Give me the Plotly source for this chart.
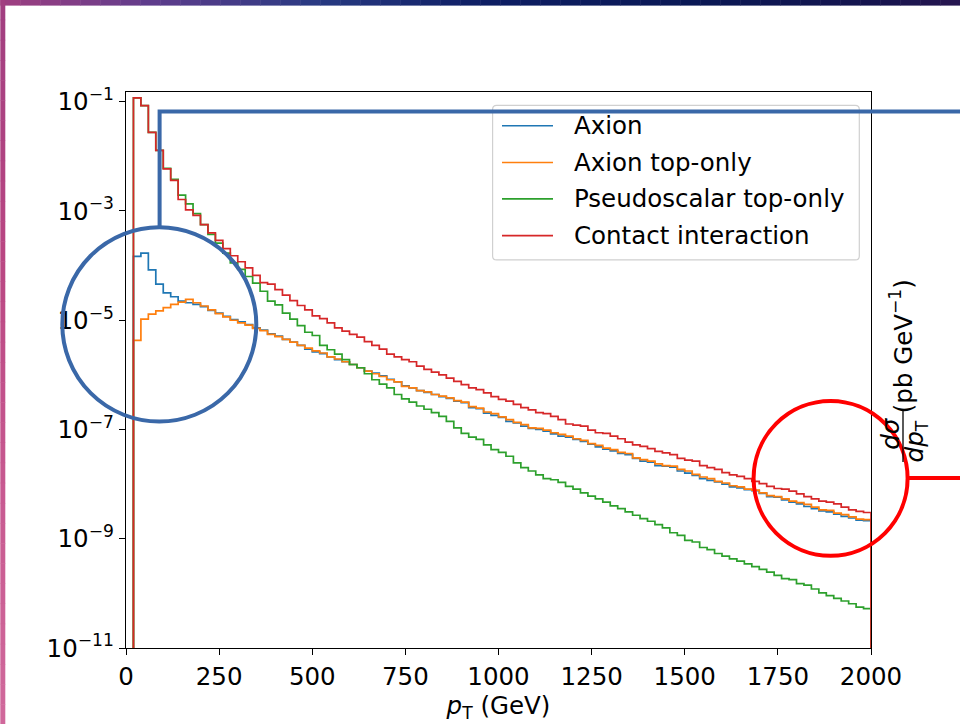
import numpy as np
import plotly.graph_objects as go

# ---------------- data (log10 of dσ/dpT in pb/GeV, one value per 20 GeV bin, 20–2000 GeV) -------------
bin_edges = list(range(20, 2001, 20))  # 100 edges -> 99 bins

axion_log10 = [
    -3.83, -3.77, -4.08, -4.34, -4.50, -4.57, -4.65, -4.68, -4.71, -4.75,
    -4.82, -4.87, -4.93, -4.99, -5.03, -5.08, -5.14, -5.18, -5.25, -5.29,
    -5.35, -5.40, -5.46, -5.53, -5.58, -5.61, -5.67, -5.72, -5.76, -5.81,
    -5.87, -5.93, -5.97, -6.02, -6.08, -6.13, -6.20, -6.24, -6.29, -6.32,
    -6.36, -6.40, -6.43, -6.48, -6.51, -6.60, -6.62, -6.70, -6.74, -6.78,
    -6.85, -6.88, -6.94, -6.98, -7.00, -7.03, -7.08, -7.12, -7.14, -7.18,
    -7.22, -7.27, -7.32, -7.36, -7.39, -7.44, -7.46, -7.53, -7.58, -7.60,
    -7.66, -7.67, -7.69, -7.76, -7.80, -7.84, -7.90, -7.93, -7.96, -8.00,
    -8.05, -8.07, -8.10, -8.12, -8.17, -8.23, -8.24, -8.29, -8.33, -8.36,
    -8.41, -8.45, -8.49, -8.51, -8.55, -8.59, -8.62, -8.66, -8.67,
]

axion_top_only_log10 = [
    -5.37, -4.98, -4.89, -4.83, -4.77, -4.71, -4.67, -4.62, -4.68, -4.74,
    -4.81, -4.88, -4.94, -5.00, -5.05, -5.09, -5.15, -5.19, -5.26, -5.30,
    -5.35, -5.40, -5.46, -5.51, -5.56, -5.60, -5.67, -5.71, -5.76, -5.81,
    -5.87, -5.93, -5.98, -6.03, -6.09, -6.13, -6.21, -6.24, -6.29, -6.31,
    -6.36, -6.39, -6.42, -6.47, -6.50, -6.58, -6.61, -6.68, -6.71, -6.77,
    -6.82, -6.87, -6.91, -6.97, -6.98, -7.01, -7.06, -7.09, -7.12, -7.17,
    -7.20, -7.26, -7.29, -7.34, -7.37, -7.42, -7.44, -7.52, -7.55, -7.58,
    -7.63, -7.66, -7.67, -7.73, -7.76, -7.82, -7.87, -7.90, -7.95, -7.98,
    -8.03, -8.05, -8.09, -8.11, -8.16, -8.21, -8.23, -8.27, -8.31, -8.34,
    -8.37, -8.42, -8.47, -8.48, -8.53, -8.56, -8.60, -8.64, -8.65,
]

pseudoscalar_top_only_log10 = [
    -0.93, -1.07, -1.56, -1.89, -2.22, -2.42, -2.71, -2.87, -3.05, -3.25,
    -3.43, -3.59, -3.77, -3.95, -4.07, -4.20, -4.32, -4.47, -4.65, -4.72,
    -4.87, -4.98, -5.10, -5.22, -5.28, -5.46, -5.54, -5.62, -5.72, -5.81,
    -5.87, -5.98, -6.09, -6.17, -6.24, -6.36, -6.44, -6.50, -6.57, -6.63,
    -6.69, -6.76, -6.85, -6.97, -7.07, -7.14, -7.18, -7.28, -7.37, -7.42,
    -7.49, -7.61, -7.70, -7.76, -7.83, -7.90, -7.92, -7.97, -8.04, -8.09,
    -8.16, -8.22, -8.27, -8.33, -8.40, -8.45, -8.51, -8.57, -8.63, -8.68,
    -8.74, -8.80, -8.89, -8.94, -9.03, -9.06, -9.16, -9.20, -9.27, -9.32,
    -9.37, -9.41, -9.46, -9.51, -9.56, -9.61, -9.67, -9.73, -9.75, -9.82,
    -9.85, -9.92, -9.99, -10.04, -10.09, -10.14, -10.19, -10.25, -10.28,
]

contact_log10 = [
    -0.93, -1.07, -1.56, -1.89, -2.23, -2.44, -2.79, -2.98, -3.08, -3.25,
    -3.40, -3.54, -3.69, -3.82, -3.93, -4.04, -4.18, -4.31, -4.34, -4.44,
    -4.54, -4.64, -4.73, -4.81, -4.92, -4.97, -5.05, -5.14, -5.20, -5.26,
    -5.31, -5.39, -5.46, -5.53, -5.62, -5.67, -5.72, -5.76, -5.84, -5.90,
    -5.95, -6.00, -6.06, -6.12, -6.18, -6.24, -6.27, -6.33, -6.40, -6.45,
    -6.48, -6.54, -6.60, -6.64, -6.69, -6.71, -6.76, -6.82, -6.90, -6.92,
    -6.94, -7.01, -7.06, -7.07, -7.12, -7.17, -7.23, -7.28, -7.31, -7.35,
    -7.40, -7.43, -7.46, -7.53, -7.56, -7.58, -7.66, -7.70, -7.73, -7.79,
    -7.83, -7.86, -7.90, -7.95, -7.99, -8.04, -8.08, -8.09, -8.13, -8.18,
    -8.23, -8.27, -8.31, -8.33, -8.36, -8.42, -8.47, -8.50, -8.52,
]

series_names = ["Axion", "Axion top-only", "Pseudoscalar top-only", "Contact interaction"]
series_data = [axion_log10, axion_top_only_log10, pseudoscalar_top_only_log10, contact_log10]
series_colors = ["#1f77b4", "#ff7f0e", "#2ca02c", "#d62728"]

x_ticks = [0, 250, 500, 750, 1000, 1250, 1500, 1750, 2000]
y_tick_exps = [-11, -9, -7, -5, -3, -1]

# ---------------- geometry (pixels) ----------------
W_FIG, H_FIG = 960, 724
L, R, T, B = 125.7, 870.7, 92.3, 647.7
PW, PH = R - L, B - T
DEC = (B - 102.0) / 10.0
Y_TOP = -11 + PH / DEC
FLOOR = 1e-14


def px(x):
    return (x - L) / PW


def py(y):
    return (B - y) / PH


fig = go.Figure()

for name, logs, col in zip(series_names, series_data, series_colors):
    vals = [10 ** v for v in logs]
    xs = [bin_edges[0]] + bin_edges[:-1] + [bin_edges[-1], bin_edges[-1]]
    ys = [FLOOR] + vals + [vals[-1], FLOOR]
    fig.add_trace(go.Scatter(x=xs, y=ys, mode="lines", name=name,
                             line=dict(color=col, width=1.7, shape="hv"),
                             showlegend=False, hoverinfo="skip"))

shapes = []
annotations = []

# ---- slide decoration: gradient bands ----
def lerp(c1, c2, t):
    return tuple(int(round(a + (b - a) * t)) for a, b in zip(c1, c2))


top_stops = [(0, (160, 62, 128)), (150, (95, 60, 140)), (320, (40, 58, 130)),
             (480, (14, 30, 100)), (700, (10, 24, 84)), (880, (22, 20, 78)), (960, (40, 22, 80))]
nseg = 48
for i in range(nseg):
    x0 = W_FIG * i / nseg
    x1 = W_FIG * (i + 1) / nseg
    xm = (x0 + x1) / 2
    for j in range(len(top_stops) - 1):
        if top_stops[j][0] <= xm <= top_stops[j + 1][0]:
            t = (xm - top_stops[j][0]) / (top_stops[j + 1][0] - top_stops[j][0])
            c = lerp(top_stops[j][1], top_stops[j + 1][1], t)
            break
    shapes.append(dict(type="rect", xref="paper", yref="paper", x0=px(x0), x1=px(x1 + 0.5),
                       y0=py(0), y1=py(6), fillcolor="rgb(%d,%d,%d)" % c, line=dict(width=0), layer="below"))

left_stops = [(0, (160, 62, 128)), (250, (185, 70, 130)), (500, (200, 90, 145)), (724, (208, 105, 155))]
for i in range(36):
    y0 = H_FIG * i / 36
    y1 = H_FIG * (i + 1) / 36
    ym = (y0 + y1) / 2
    for j in range(len(left_stops) - 1):
        if left_stops[j][0] <= ym <= left_stops[j + 1][0]:
            t = (ym - left_stops[j][0]) / (left_stops[j + 1][0] - left_stops[j][0])
            c = lerp(left_stops[j][1], left_stops[j + 1][1], t)
            break
    shapes.append(dict(type="rect", xref="paper", yref="paper", x0=px(0), x1=px(5),
                       y0=py(y1 + 0.5), y1=py(y0), fillcolor="rgb(%d,%d,%d)" % c, line=dict(width=0), layer="below"))

# ---- legend (matplotlib style) ----
lx0, lx1, ly0, ly1, rad = 492.3, 859.0, 105.7, 260.0, 4.0
path = (f"M {px(lx0+rad)},{py(ly0)} L {px(lx1-rad)},{py(ly0)} Q {px(lx1)},{py(ly0)} {px(lx1)},{py(ly0+rad)} "
        f"L {px(lx1)},{py(ly1-rad)} Q {px(lx1)},{py(ly1)} {px(lx1-rad)},{py(ly1)} "
        f"L {px(lx0+rad)},{py(ly1)} Q {px(lx0)},{py(ly1)} {px(lx0)},{py(ly1-rad)} "
        f"L {px(lx0)},{py(ly0+rad)} Q {px(lx0)},{py(ly0)} {px(lx0+rad)},{py(ly0)} Z")
shapes.append(dict(type="path", xref="paper", yref="paper", path=path,
                   fillcolor="rgba(255,255,255,0.8)", line=dict(color="#d0d0d0", width=1.2), layer="above"))
legend_rows = [126.0, 162.7, 199.0, 235.7]
for name, col, yy in zip(series_names, series_colors, legend_rows):
    shapes.append(dict(type="line", xref="paper", yref="paper", x0=px(501.7), x1=px(552.7),
                       y0=py(yy), y1=py(yy), line=dict(color=col, width=1.7), layer="above"))
    annotations.append(dict(xref="paper", yref="paper", x=px(572.0), y=py(yy), text=name,
                            showarrow=False, xanchor="left", yanchor="middle",
                            font=dict(size=24.5, color="black", family="DejaVu Sans")))

# ---- highlight circles and connector lines ----
BLUE = "#3a68a8"
shapes.append(dict(type="circle", xref="paper", yref="paper", x0=px(62), x1=px(256),
                   y0=py(421.5), y1=py(227.5), line=dict(color=BLUE, width=4), layer="above"))
shapes.append(dict(type="path", xref="paper", yref="paper",
                   path=f"M {px(159.3)},{py(228)} L {px(159.3)},{py(111.7)} L {px(962)},{py(111.7)}",
                   line=dict(color=BLUE, width=4), layer="above"))
RED = "#ff0000"
shapes.append(dict(type="circle", xref="paper", yref="paper", x0=px(753.3), x1=px(907.3),
                   y0=py(555.5), y1=py(401.0), line=dict(color=RED, width=4), layer="above"))
shapes.append(dict(type="line", xref="paper", yref="paper", x0=px(907), x1=px(962),
                   y0=py(478), y1=py(478), line=dict(color=RED, width=4), layer="above"))

# ---- y-axis label on the right (rotated, fraction) ----
annotations.append(dict(xref="paper", yref="paper", x=px(889.5), y=py(433), text="<i>dσ</i>",
                        textangle=-90, showarrow=False, xanchor="center", yanchor="middle",
                        font=dict(size=24.5, color="black", family="DejaVu Sans")))
annotations.append(dict(xref="paper", yref="paper", x=px(916), y=py(441), text="<i>dp</i><sub>T</sub>",
                        textangle=-90, showarrow=False, xanchor="center", yanchor="middle",
                        font=dict(size=24.5, color="black", family="DejaVu Sans")))
shapes.append(dict(type="line", xref="paper", yref="paper", x0=px(902.7), x1=px(902.7),
                   y0=py(410), y1=py(462), line=dict(color="black", width=1.3), layer="above"))
annotations.append(dict(xref="paper", yref="paper", x=px(901), y=py(346),
                        text="(pb GeV<sup>−1</sup>)", textangle=-90, showarrow=False,
                        xanchor="center", yanchor="middle",
                        font=dict(size=24.5, color="black", family="DejaVu Sans")))

fig.update_layout(
    width=W_FIG, height=H_FIG, autosize=False,
    margin=dict(l=L, r=W_FIG - R, t=T, b=H_FIG - B, pad=0),
    paper_bgcolor="white", plot_bgcolor="white",
    showlegend=False,
    font=dict(family="DejaVu Sans", size=24.5, color="black"),
    shapes=shapes, annotations=annotations,
    xaxis=dict(range=[0, 2000], tickvals=x_ticks, ticktext=[str(v) for v in x_ticks],
               ticks="outside", ticklen=6, tickwidth=1.2, tickcolor="black",
               showline=True, linecolor="black", linewidth=1.3, mirror=True,
               showgrid=False, zeroline=False,
               tickfont=dict(size=24.5, family="DejaVu Sans"),
               title=dict(text="<i>p</i><sub>T</sub> (GeV)", standoff=4,
                          font=dict(size=24.5, family="DejaVu Sans"))),
    yaxis=dict(type="log", range=[-11, Y_TOP],
               tickvals=[10.0 ** e for e in y_tick_exps],
               ticktext=["10<sup>−%d</sup>" % (-e) for e in y_tick_exps],
               ticks="outside", ticklen=6, tickwidth=1.2, tickcolor="black",
               showline=True, linecolor="black", linewidth=1.3, mirror=True,
               showgrid=False, zeroline=False,
               tickfont=dict(size=24.5, family="DejaVu Sans")),
)

fig.write_html("out.html", config={"displayModeBar": False},
               post_script="document.body.style.margin='0';document.body.style.padding='0';"
                           "document.documentElement.style.overflow='hidden';")
